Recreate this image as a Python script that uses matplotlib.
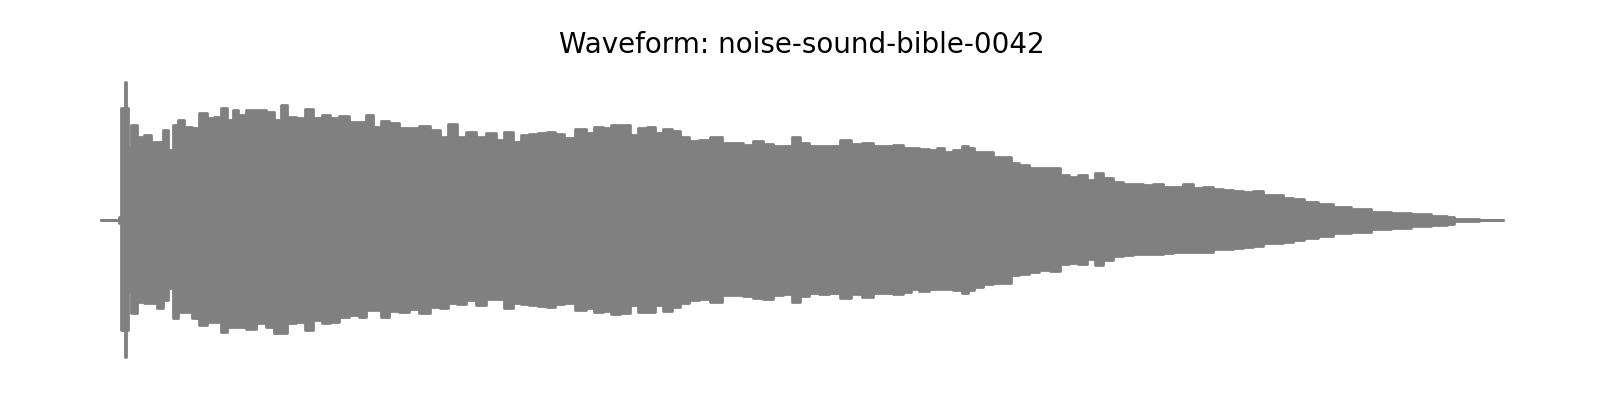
import numpy as np
import matplotlib
matplotlib.use("Agg")
import matplotlib.pyplot as plt

# envelope of the waveform
# time in ms, amplitude in raw units (normalised to the peak below)
time_ms = [0, 85, 95, 105, 120, 125, 130, 140, 165, 200,
           235, 265, 300, 325, 350, 375, 400, 435, 475, 510,
           550, 585, 615, 650, 675, 700, 750, 800, 850, 885,
           915, 950, 1000, 1040, 1085, 1125, 1165, 1215, 1265, 1315,
           1340, 1385, 1415, 1465, 1515, 1565, 1615, 1675, 1715, 1760,
           1800, 1850, 1900, 1950, 2000, 2035, 2085, 2115, 2165, 2210,
           2250, 2290, 2340, 2400, 2450, 2485, 2535, 2565, 2625, 2665,
           2710, 2750, 2790, 2835, 2875, 2915, 2965, 3015, 3075, 3135,
           3185, 3235, 3285, 3335, 3385, 3435, 3475, 3515, 3565, 3615,
           3665, 3725, 3775, 3835, 3885, 3935, 3990, 4035, 4065, 4115,
           4165, 4200, 4235, 4285, 4325, 4350, 4385, 4435, 4485, 4535,
           4565, 4615, 4665, 4715, 4775, 4815, 4865, 4910, 4950, 4990,
           5035, 5085, 5135, 5185, 5235, 5285, 5335, 5385, 5435, 5485,
           5535, 5585, 5635, 5685, 5735, 5785, 5835, 5885, 5935, 5985,
           6050, 6125, 6200, 6300, 6400, 6500, 6600, 6700, 6760, 6775,
           7010]
top_raw = [0, 0, 3, 112, 112, 138, 112, 73, 95, 83,
           85, 78, 78, 90, 70, 95, 100, 93, 92, 107,
           102, 103, 112, 100, 110, 105, 110, 110, 108, 100,
           115, 103, 102, 111, 102, 105, 102, 104, 98, 98,
           105, 93, 99, 97, 92, 92, 94, 90, 83, 96,
           83, 88, 83, 87, 80, 88, 78, 85, 86, 87,
           88, 86, 82, 91, 87, 93, 92, 95, 95, 85,
           92, 93, 87, 91, 89, 83, 79, 80, 83, 77,
           77, 75, 79, 76, 74, 74, 83, 77, 74, 74,
           74, 80, 76, 77, 74, 74, 75, 72, 72, 71,
           70, 72, 68, 70, 74, 72, 68, 68, 63, 63,
           57, 55, 52, 52, 52, 45, 43, 45, 40, 47,
           42, 38, 36, 36, 35, 36, 33, 33, 36, 32,
           33, 31, 30, 29, 28, 29, 25, 25, 22, 21,
           18, 16, 13, 11, 8, 7, 6, 4, 3, 1,
           0]
bottom_raw = [0, 0, -3, -110, -110, -137, -110, -72, -93, -82,
              -83, -83, -88, -80, -68, -98, -92, -92, -98, -105,
              -102, -102, -112, -107, -107, -107, -109, -103, -107, -113,
              -113, -103, -102, -110, -100, -103, -102, -97, -95, -97,
              -90, -90, -97, -91, -92, -89, -93, -87, -88, -83,
              -84, -80, -85, -79, -79, -88, -83, -84, -85, -86,
              -87, -84, -83, -90, -88, -92, -91, -94, -93, -85,
              -92, -92, -85, -91, -87, -83, -80, -79, -82, -75,
              -75, -76, -78, -79, -75, -74, -82, -76, -73, -74,
              -73, -78, -74, -77, -73, -73, -74, -72, -69, -71,
              -69, -69, -69, -70, -73, -70, -67, -64, -63, -63,
              -55, -54, -52, -50, -51, -44, -43, -44, -39, -45,
              -40, -36, -35, -34, -34, -34, -33, -32, -32, -32,
              -32, -29, -29, -28, -27, -26, -23, -23, -22, -20,
              -18, -16, -13, -12, -9, -8, -6, -5, -4, -1,
              0]

t = np.array(time_ms) / 1000.0
peak = max(max(top_raw), -min(bottom_raw))
top = np.array(top_raw) / peak
bottom = np.array(bottom_raw) / peak

fig = plt.figure(figsize=(16, 4), dpi=100)
ax = fig.add_axes([0.019, 0.0725, 0.964, 0.7575])
ax.fill_between(t, bottom, top, step="mid", color="gray",
                edgecolor="gray", linewidth=2)
ax.set_title("Waveform: noise-sound-bible-0042", fontsize=20, pad=11)
ax.axis("off")
plt.savefig("out.png")
